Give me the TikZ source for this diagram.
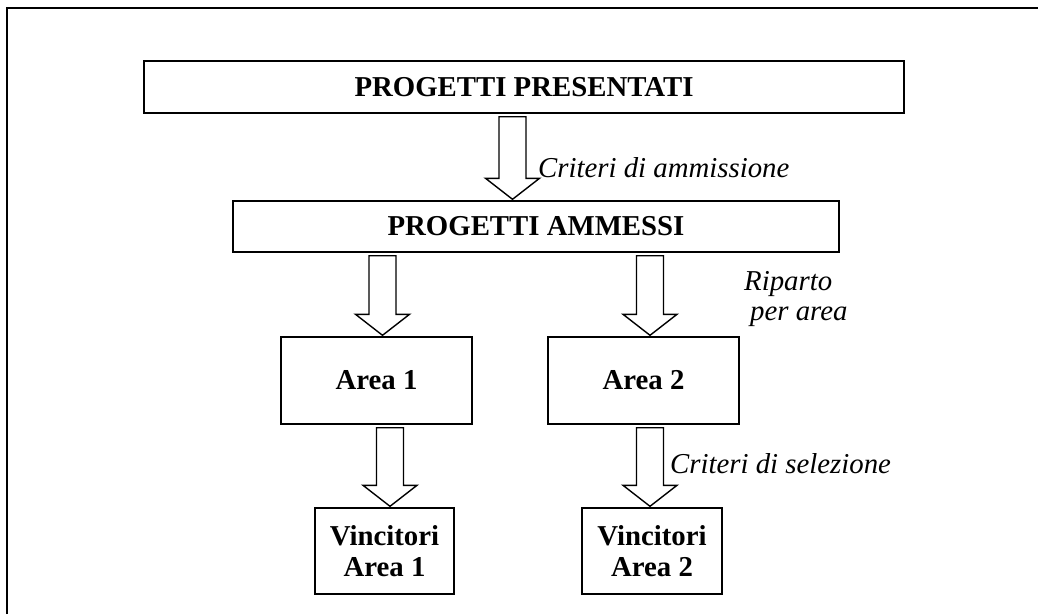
\documentclass[tikz,border=0pt]{standalone}
\usepackage{fontspec}
\setmainfont{Liberation Serif}
\usetikzlibrary{calc}
\tikzset{
  box/.style={draw, line width=1.4pt, inner sep=0pt, align=center,
    font=\fontsize{28.8}{31}\selectfont\bfseries},
  lbl/.style={anchor=base west, inner sep=0pt, font=\fontsize{28.8}{31}\selectfont\itshape},
  frame/.style={line width=2.6pt},
  hollow/.style={draw, line width=1.4pt, fill=white, line join=miter}
}
% #1 = x of arrow axis, #2 = source node, #3 = target node
\newcommand\hollowarrow[3]{%
  \path (#2.south) ++(0,3) coordinate (hs);
  \path (#3.north) ++(0,-1) coordinate (ht);
  \draw[hollow]
    ({#1-13.5},0 |- hs) -- ($({#1-13.5},0 |- ht)+(0,-21)$)
    -- ($({#1-27},0 |- ht)+(0,-21)$) -- ({#1},0 |- ht)
    -- ($({#1+27},0 |- ht)+(0,-21)$) -- ($({#1+13.5},0 |- ht)+(0,-21)$)
    -- ({#1+13.5},0 |- hs) -- cycle;
}
\begin{document}
\begin{tikzpicture}[x=1pt, y=-1pt]
\useasboundingbox (0,0) rectangle (1038,614);
\draw[frame] (7,614) -- (7,8) -- (1038,8);

\node[box, minimum width=760pt, minimum height=52pt] (pp) at (524,87) {PROGETTI PRESENTATI};
\node[box, minimum width=606pt, minimum height=51pt] (pa) at (536,226.5) {PROGETTI AMMESSI};
\node[box, minimum width=191pt, minimum height=87pt] (a1) at (376.5,380.5) {Area 1};
\node[box, minimum width=191pt, minimum height=87pt] (a2) at (643.5,380.5) {Area 2};
\node[box, minimum width=139pt, minimum height=86pt] (v1) at (384.5,551) {Vincitori\\Area 1};
\node[box, minimum width=140pt, minimum height=86pt] (v2) at (652,551) {Vincitori\\Area 2};

\hollowarrow{512.5}{pp}{pa}
\hollowarrow{382.5}{pa}{a1}
\hollowarrow{650}{pa}{a2}
\hollowarrow{390}{a1}{v1}
\hollowarrow{650}{a2}{v2}

\node[lbl] (t1) at (538,177) {Criteri di ammissione};
\node[lbl] (t2) at (744,290) {Riparto};
\node[lbl] (t3) at (750,320) {per area};
\node[lbl] (t4) at (670,473) {Criteri di selezione};
\end{tikzpicture}
\end{document}
